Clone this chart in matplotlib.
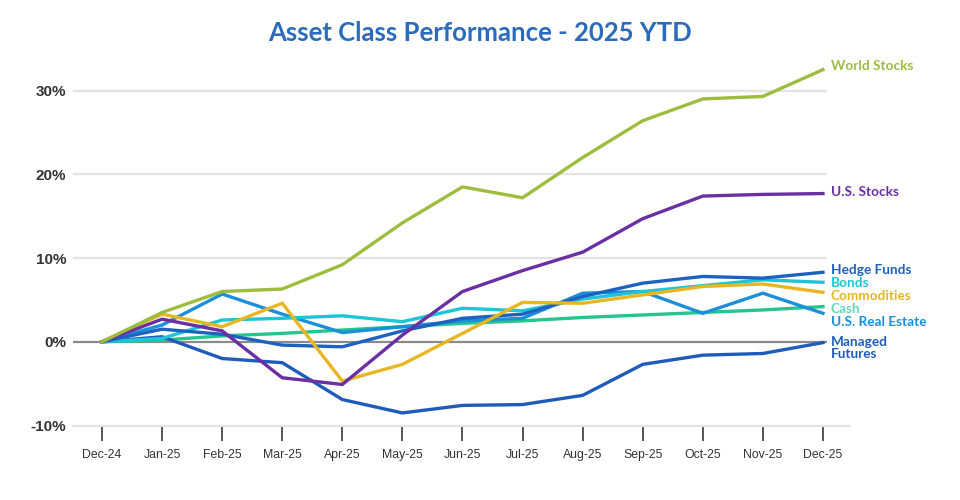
import matplotlib
matplotlib.use("Agg")
import matplotlib.pyplot as plt

months = ["Dec-24", "Jan-25", "Feb-25", "Mar-25", "Apr-25", "May-25", "Jun-25",
          "Jul-25", "Aug-25", "Sep-25", "Oct-25", "Nov-25", "Dec-25"]

world_stocks = [0, 3.5, 6.0, 6.3, 9.2, 14.2, 18.5, 17.2, 22.0, 26.4, 29.0, 29.3, 32.5]
us_stocks = [0, 2.7, 1.3, -4.3, -5.1, 0.8, 6.0, 8.5, 10.7, 14.7, 17.4, 17.6, 17.7]
hedge_funds = [0, 1.5, 0.9, -0.4, -0.6, 1.3, 2.8, 3.3, 5.4, 7.0, 7.8, 7.6, 8.3]
bonds = [0, 0.4, 2.6, 2.8, 3.1, 2.4, 4.0, 3.7, 5.1, 6.0, 6.7, 7.4, 7.1]
commodities = [0, 3.3, 1.8, 4.6, -4.7, -2.7, 1.0, 4.7, 4.6, 5.6, 6.6, 6.9, 5.9]
cash = [0, 0.2, 0.7, 1.0, 1.4, 1.8, 2.2, 2.5, 2.9, 3.2, 3.5, 3.8, 4.2]
us_real_estate = [0, 2.0, 5.7, 3.3, 1.1, 1.8, 2.5, 2.8, 5.8, 6.0, 3.4, 5.8, 3.4]
managed_futures = [0, 0.6, -2.0, -2.5, -6.9, -8.5, -7.6, -7.5, -6.4, -2.7, -1.6, -1.4, -0.1]

series = [
    ("Cash", cash, "#25c58f", "#5fd8b2"),
    ("Managed\nFutures", managed_futures, "#1f5cba", "#1f5cba"),
    ("U.S. Real Estate", us_real_estate, "#1b8fd8", "#1b8fd8"),
    ("Bonds", bonds, "#1ec4d8", "#1ec4d8"),
    ("Hedge Funds", hedge_funds, "#1d62c0", "#1d62c0"),
    ("Commodities", commodities, "#e8b622", "#e8b622"),
    ("U.S. Stocks", us_stocks, "#6a2fa3", "#6a2fa3"),
    ("World Stocks", world_stocks, "#9dbd3e", "#9dbd3e"),
]
# where each label sits on the right (y in data units)
label_y = {"World Stocks": 32.9, "U.S. Stocks": 17.9, "Hedge Funds": 8.6,
           "Bonds": 7.0, "Commodities": 5.5, "Cash": 3.9,
           "U.S. Real Estate": 2.4, "Managed\nFutures": -0.75}

fig = plt.figure(figsize=(9.6, 5.0), dpi=100)
ax = fig.add_axes([73 / 960, 0.149, (850 - 73) / 960, 0.9026 - 0.149])

x = list(range(len(months)))
x0, x1 = -0.483, 12.45
ax.set_xlim(x0, x1)
ax.set_ylim(-10, 35)

for g in [10, 20, 30]:
    ax.hlines(g, x0, 12.07, color="#e3e3e3", lw=1.6, zorder=1)
ax.hlines(0, x0, 12.07, color="#8a8a8a", lw=1.6, zorder=2)

for name, vals, col, lcol in series:
    ax.plot(x, vals, color=col, lw=2.4, zorder=3, solid_joinstyle="miter")
    ax.text(12.13, label_y[name], name, color=lcol, fontsize=9.8,
            fontweight="bold", family="Lato", va="center", ha="left",
            linespacing=0.95)

for s in ["top", "right", "left"]:
    ax.spines[s].set_visible(False)
ax.spines["bottom"].set_color("#e3e3e3")
ax.spines["bottom"].set_linewidth(1.6)

ax.set_xticks(x)
ax.set_xticklabels(months, fontsize=8.8, color="#333333", family="Liberation Sans")
ax.tick_params(axis="x", length=11, width=1.4, color="#555555", pad=6)
ax.set_yticks([-10, 0, 10, 20, 30])
ax.set_yticklabels(["-10%", "0%", "10%", "20%", "30%"], fontsize=11,
                   fontweight="bold", color="#333333", family="Liberation Sans")
ax.tick_params(axis="y", length=0, pad=5)

fig.text(0.5, 0.934, "Asset Class Performance - 2025 YTD", ha="center", va="center",
         fontsize=18.5, fontweight="bold", color="#2a6bbb", family="Lato")

fig.savefig("out.png", dpi=100)
